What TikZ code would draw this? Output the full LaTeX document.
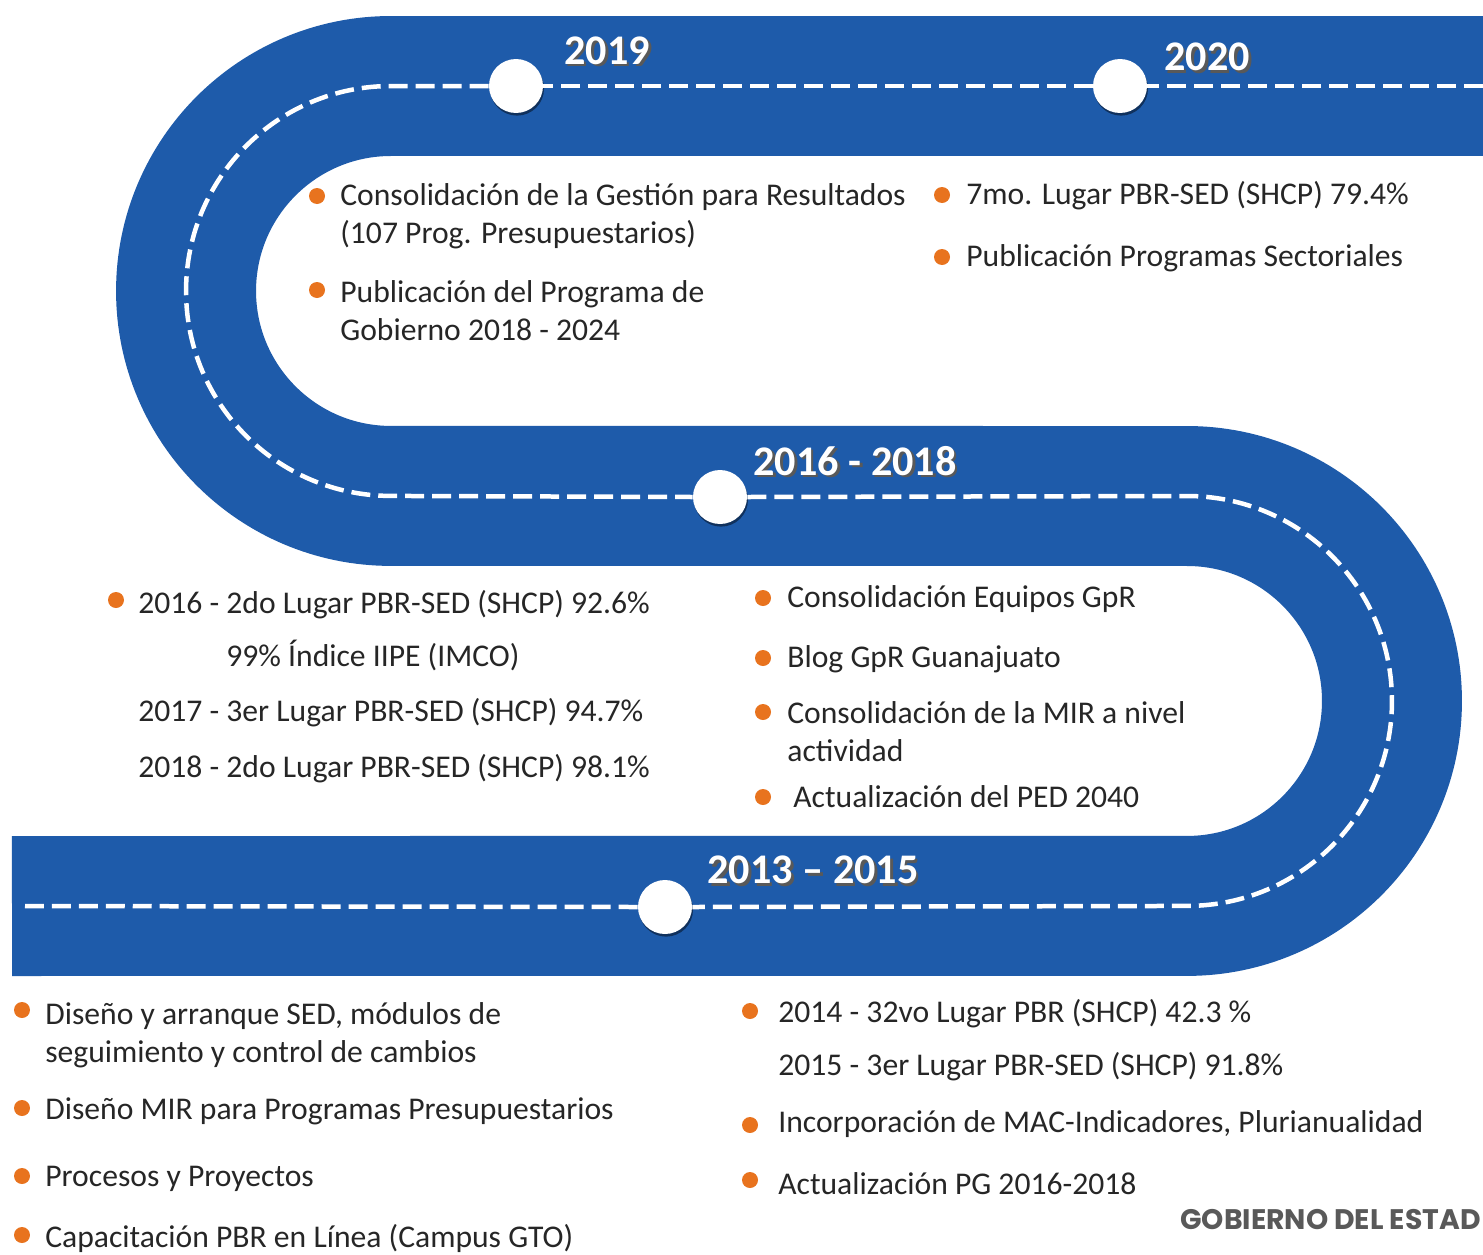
\documentclass[tikz,border=0pt]{standalone}
\usepackage{fontspec}
\setmainfont{Carlito}
\newfontfamily\gobfont{Poppins}
\usetikzlibrary{shadows}
\definecolor{road}{HTML}{1E5BAA}
\definecolor{bul}{HTML}{E8731E}
\definecolor{txt}{HTML}{262626}
\definecolor{gob}{HTML}{595959}
\newcommand\yrshadow[1]{\rlap{\hspace{1.5pt}\raisebox{-1.5pt}{\color{black!65}#1}}#1}
\begin{document}
\begin{tikzpicture}[x=0.02cm,y=-0.02cm,
  roadline/.style={draw=road, line width=2.8cm},
  lane/.style={draw=white, line width=0.09cm, dash pattern=on 0.38cm off 0.16cm},
  milestone/.style={circle, fill=white, minimum size=1.08cm, inner sep=0,
    drop shadow={shadow xshift=0.6pt, shadow yshift=-1.5pt, opacity=0.45, fill=black}},
  year/.style={text=white, font=\bfseries\fontsize{24}{28}\selectfont, inner sep=0},
  item/.style={text=txt, font=\fontsize{18}{21.6}\selectfont, anchor=base west, align=left, inner sep=0},
  bullet/.style={circle, fill=bul, minimum size=0.32cm, inner sep=0},
]
\useasboundingbox (0,0) rectangle (1483,1254);
\begin{scope}
\clip (0,0) rectangle (1483,1254);
% road
\draw[roadline] (1540,86) -- (391,86) arc[start angle=90,end angle=270,radius=4.1cm]
  -- (1187,496) arc[start angle=90,end angle=-90,radius=4.1cm] -- (12,906);
% milestones
\node[milestone] (m2019) at (516,86) {};
\node[milestone] (m2020) at (1120,86) {};
\node[milestone] (m1618) at (720,497) {};
\node[milestone] (m1315) at (665,907) {};
% lane
\coordinate (eR) at (1483,86);
\coordinate (eL) at (25,906);
\draw[lane] (eR) -- (m2020);
\draw[lane] (m2020) -- (m2019);
\draw[lane] (m2019.west) -- (391,86) arc[start angle=90,end angle=270,radius=4.1cm] -- (m1618.west);
\draw[lane] (m1618.east) -- (1187,496) arc[start angle=90,end angle=-90,radius=4.1cm] -- (m1315.east);
\draw[lane] (m1315.west) -- (eL);
% years
\node[year] (y2019) at (607,52) {\yrshadow{2019}};
\node[year] (y2020) at (1207,58) {\yrshadow{2020}};
\node[year] (y1618) at (855,462) {\yrshadow{2016 - 2018}};
\node[year] (y1315) at (813,871) {\yrshadow{2013 – 2015}};
% 2019
\node[bullet] (b1) at (317,196) {};
\node[item] (t1) at (340,243) {Consolidación de la Gestión para Resultados\\(107 Prog. Presupuestarios)};
\node[bullet] (b2) at (317,290) {};
\node[item] (t2) at (340,340) {Publicación del Programa de\\Gobierno 2018 - 2024};
% 2020
\node[bullet] (b3) at (942,195) {};
\node[item] (t3) at (966,204) {7mo. Lugar PBR-SED (SHCP) 79.4\%};
\node[bullet] (b4) at (942,257) {};
\node[item] (t4) at (966,266) {Publicación Programas Sectoriales};
% 2016-2018 left
\node[bullet] (b5) at (116,600) {};
\node[item] (t5) at (138,613) {2016 - 2do Lugar PBR-SED (SHCP) 92.6\%};
\node[item] (t6) at (226,666) {99\% Índice IIPE (IMCO)};
\node[item] (t7) at (138,721) {2017 - 3er Lugar PBR-SED (SHCP) 94.7\%};
\node[item] (t8) at (138,777) {2018 - 2do Lugar PBR-SED (SHCP) 98.1\%};
% 2016-2018 right
\node[bullet] (b9) at (763,598) {};
\node[item] (t9) at (787,607) {Consolidación Equipos GpR};
\node[bullet] (b10) at (763,658) {};
\node[item] (t10) at (787,667) {Blog GpR Guanajuato};
\node[bullet] (b11) at (763,712) {};
\node[item] (t11) at (787,761) {Consolidación de la MIR a nivel\\actividad};
\node[bullet] (b12) at (763,797) {};
\node[item] (t12) at (793,807) {Actualización del PED 2040};
% 2013-2015 left
\node[bullet] (b13) at (22,1010) {};
\node[item] (t13) at (45,1062) {Diseño y arranque SED, módulos de\\seguimiento y control de cambios};
\node[bullet] (b14) at (22,1108) {};
\node[item] (t14) at (45,1119) {Diseño MIR para Programas Presupuestarios};
\node[bullet] (b15) at (22,1176) {};
\node[item] (t15) at (45,1186) {Procesos y Proyectos};
\node[bullet] (b16) at (22,1235) {};
\node[item] (t16) at (45,1247) {Capacitación PBR en Línea (Campus GTO)};
% 2013-2015 right
\node[bullet] (b17) at (750,1011) {};
\node[item] (t17) at (778,1022) {2014 - 32vo Lugar PBR (SHCP) 42.3 \%};
\node[item] (t18) at (778,1075) {2015 - 3er Lugar PBR-SED (SHCP) 91.8\%};
\node[bullet] (b19) at (750,1125) {};
\node[item] (t19) at (778,1132) {Incorporación de MAC-Indicadores, Plurianualidad};
\node[bullet] (b20) at (750,1180) {};
\node[item] (t20) at (778,1194) {Actualización PG 2016-2018};
% footer
\node[anchor=base west, inner sep=0, text=gob, font=\gobfont\bfseries\fontsize{16.1}{19}\selectfont] (gobierno) at (1180,1229) {GOBIERNO DEL ESTAD};
\end{scope}
\end{tikzpicture}
\end{document}
